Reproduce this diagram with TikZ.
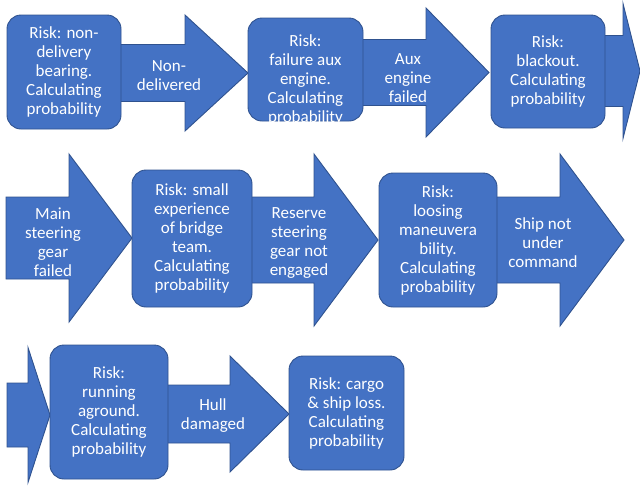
\documentclass[tikz,border=0pt]{standalone}
\usepackage{fontspec}
\setmainfont{Carlito}
\usepackage{xcolor}
\usetikzlibrary{positioning,calc}
\definecolor{azul}{HTML}{4472C4}
\definecolor{borde}{HTML}{2F528F}

\begin{document}
\begin{tikzpicture}[x=1pt,y=-1pt,
riskbox/.style={draw=borde,line width=0.9pt,rounded corners=14pt,fill=azul,align=center,text=white,inner sep=0pt,font=\fontsize{17}{19}\selectfont},
flecha/.style={draw=borde,line width=0.9pt,fill=azul,line join=miter},
flechatxt/.style={align=center,text=white,inner sep=0pt,font=\fontsize{17}{19}\selectfont}
]
\useasboundingbox (0,0) rectangle (640,485);

% block arrows (behind the boxes)
\foreach \xa/\xb/\xc/\yc/\sh/\hh in {100/185/248/73/28.5/58, 340/426/489/72.5/33/64.5, 590/623/640/71/35.5/67.5,
  6/69/132/238/41/84, 230/314/378/240/43/86, 480/560/624/240/43/86,
  7/28/50/415/32/67.5, 150/230/289/414/29/58}
  \draw[flecha] (\xa,\yc-\sh) -- (\xb,\yc-\sh) -- (\xb,\yc-\hh) -- (\xc,\yc) -- (\xb,\yc+\hh) -- (\xb,\yc+\sh) -- (\xa,\yc+\sh) -- cycle;

% arrow labels
\node[flechatxt] (a1) at (169,76) {Non-\\delivered};
\node[flechatxt] (a2) at (408,78) {Aux\\engine\\failed};
\node[flechatxt] (a4) at (53,242) {Main\\steering\\gear\\failed};
\node[flechatxt] (a5) at (299,243) {Reserve\\steering\\gear not\\engaged};
\node[flechatxt] (a6) at (543,243) {Ship not\\under\\command};
\node[flechatxt] (a8) at (213,416) {Hull\\damaged};

% risk boxes
\node[riskbox,minimum width=114pt,minimum height=114pt] (r1) at (64,72) {Risk: non-\\delivery\\bearing.\\Calculating\\probability};
\node[riskbox,minimum width=115pt,minimum height=103pt] (r2) at (305.5,69.5) {};
\begin{scope}
\clip[rounded corners=14pt] (r2.north west) rectangle (r2.south east);
\node[flechatxt] (t2) at (305.5,80) {Risk:\\failure aux\\engine.\\Calculating\\probability};
\end{scope}
\node[riskbox,minimum width=114pt,minimum height=113pt] (r3) at (548,71.5) {Risk:\\blackout.\\Calculating\\probability};
\node[riskbox,minimum width=120pt,minimum height=137pt] (r4) at (192,238.5) {Risk: small\\experience\\of bridge\\team.\\Calculating\\probability};
\node[riskbox,minimum width=118pt,minimum height=134pt] (r5) at (438,240) {Risk:\\loosing\\maneuvera\\bility.\\Calculating\\probability};
\node[riskbox,minimum width=118pt,minimum height=134pt] (r6) at (109,412) {Risk:\\running\\aground.\\Calculating\\probability};
\node[riskbox,minimum width=115pt,minimum height=114pt] (r7) at (346.5,413) {Risk: cargo\\\& ship loss.\\Calculating\\probability};
\end{tikzpicture}
\end{document}
